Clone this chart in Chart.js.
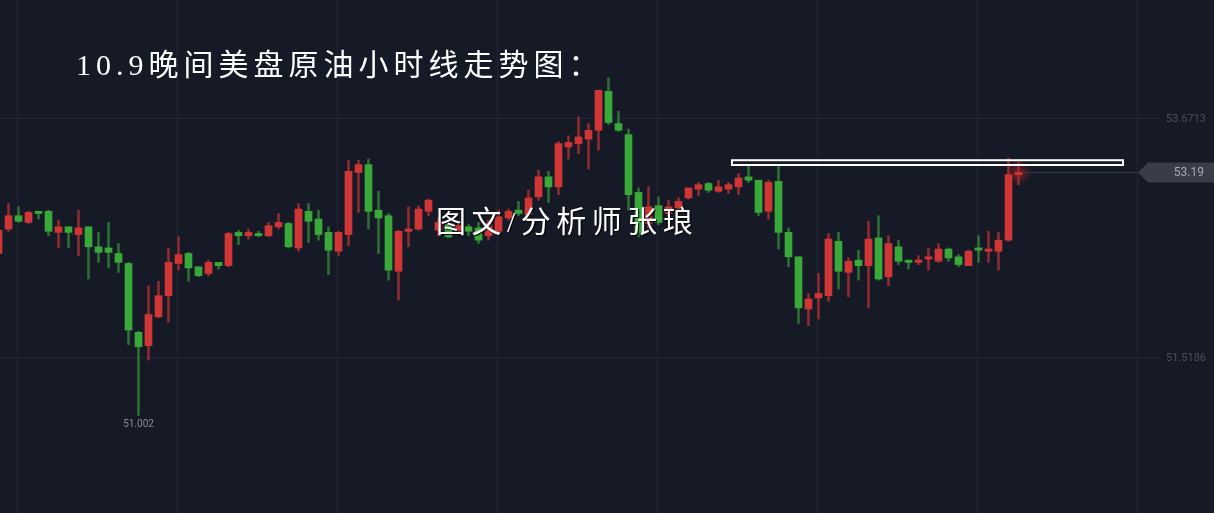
<!DOCTYPE html>
<html lang="zh-CN">
<head>
<meta charset="utf-8">
<title>10.9晚间美盘原油小时线走势图</title>
<script src="https://cdn.jsdelivr.net/npm/chart.js@4.4.1/dist/chart.umd.min.js"></script>
<style>
  html, body { margin: 0; padding: 0; background: #161a26; overflow: hidden; }
  #wrap { position: relative; width: 1214px; height: 513px; }
  #title {
    position: absolute; left: 76px; top: 48px;
    color: #fff; font-size: 30px; line-height: 34px; letter-spacing: 5px;
    font-family: "Liberation Serif", "Noto Sans CJK SC", serif;
    white-space: nowrap;
  }
  #mark {
    position: absolute; left: 436px; top: 205px;
    color: #fff; font-size: 30px; line-height: 34px; letter-spacing: 5.5px;
    font-family: "Liberation Serif", "Noto Sans CJK SC", serif;
    text-shadow: 1px 1px 1px #000;
    white-space: nowrap;
  }
</style>
</head>
<body>
<div id="wrap">
  <canvas id="kline"></canvas>
  <div id="title">10.9晚间美盘原油小时线走势图：</div>
  <div id="mark">图文/分析师张琅</div>
</div>
<script>
// hourly candles, oldest first (first one is cut by the left edge)
var opens = [52.46, 52.68, 52.80, 52.74, 52.84, 52.84, 52.65, 52.70, 52.63, 52.70, 52.52, 52.51, 52.46, 52.37, 51.75,
  51.63, 51.89, 52.08, 52.37, 52.46, 52.34, 52.28, 52.38, 52.35, 52.65, 52.62, 52.64, 52.62, 52.70, 52.73,
  52.51, 52.84, 52.77, 52.65, 52.48, 52.63, 53.19, 53.26, 52.85, 52.80, 52.30, 52.66, 52.68, 52.84, 52.67,
  52.72, 52.67, 52.70, 52.69, 52.62, 52.66, 52.78, 52.85, 52.81, 52.97, 53.15, 53.06, 53.42, 53.45, 53.49,
  53.57, 53.92, 53.63, 53.53, 53.01, 52.73, 52.89, 52.82, 52.87, 52.96, 53.04, 53.09, 53.02, 53.04, 53.06,
  53.15, 53.12, 52.84, 53.11, 52.65, 52.43, 51.96, 52.06, 52.08, 52.57, 52.29, 52.40, 52.35, 52.60, 52.25,
  52.52, 52.40, 52.38, 52.41, 52.39, 52.50, 52.43, 52.35, 52.51, 52.48, 52.48, 52.58, 53.17];
var highs = [52.69, 52.91, 52.88, 52.84, 52.84, 52.85, 52.76, 52.70, 52.85, 52.70, 52.65, 52.74, 52.55, 52.38, 51.76,
  52.17, 52.21, 52.51, 52.61, 52.47, 52.34, 52.40, 52.38, 52.65, 52.67, 52.68, 52.66, 52.74, 52.82, 52.74,
  52.91, 52.91, 52.85, 52.70, 52.66, 53.30, 53.30, 53.31, 53.02, 52.82, 52.67, 52.88, 52.89, 52.95, 52.78,
  52.74, 52.74, 52.72, 52.74, 52.76, 52.85, 52.86, 52.93, 53.03, 53.21, 53.20, 53.47, 53.52, 53.69, 53.63,
  53.93, 54.04, 53.74, 53.58, 53.05, 53.06, 52.97, 52.94, 52.96, 53.05, 53.10, 53.10, 53.12, 53.10, 53.18,
  53.25, 53.12, 53.12, 53.26, 52.69, 52.43, 52.10, 52.28, 52.64, 52.65, 52.42, 52.49, 52.75, 52.80, 52.62,
  52.58, 52.40, 52.44, 52.51, 52.55, 52.51, 52.45, 52.49, 52.62, 52.66, 52.65, 53.32, 53.28];
var lows = [52.45, 52.66, 52.74, 52.73, 52.77, 52.62, 52.51, 52.51, 52.44, 52.23, 52.38, 52.33, 52.29, 51.64, 51.002,
  51.50, 51.88, 51.84, 52.31, 52.21, 52.25, 52.26, 52.32, 52.34, 52.54, 52.59, 52.61, 52.61, 52.68, 52.51,
  52.48, 52.56, 52.58, 52.27, 52.44, 52.53, 52.83, 52.68, 52.46, 52.22, 52.04, 52.52, 52.67, 52.80, 52.62,
  52.60, 52.64, 52.62, 52.55, 52.58, 52.64, 52.76, 52.80, 52.78, 52.94, 52.92, 52.99, 53.31, 53.36, 53.22,
  53.39, 53.62, 53.56, 52.85, 52.61, 52.69, 52.72, 52.80, 52.86, 52.95, 52.98, 53.01, 53.01, 53.00, 52.99,
  53.10, 52.80, 52.77, 52.50, 52.34, 51.83, 51.81, 51.87, 52.03, 52.14, 52.07, 52.22, 51.97, 52.22, 52.17,
  52.36, 52.32, 52.36, 52.31, 52.38, 52.39, 52.34, 52.35, 52.38, 52.38, 52.31, 52.57, 53.08];
var closes = [52.67, 52.80, 52.75, 52.83, 52.82, 52.66, 52.70, 52.65, 52.69, 52.52, 52.47, 52.47, 52.38, 51.77, 51.62,
  51.91, 52.08, 52.38, 52.45, 52.33, 52.26, 52.38, 52.35, 52.64, 52.62, 52.65, 52.62, 52.71, 52.74, 52.52,
  52.86, 52.75, 52.63, 52.49, 52.65, 53.20, 53.26, 52.84, 52.78, 52.31, 52.66, 52.68, 52.86, 52.94, 52.74,
  52.61, 52.71, 52.66, 52.58, 52.73, 52.79, 52.84, 52.82, 52.96, 53.15, 53.06, 53.45, 53.46, 53.51, 53.57,
  53.93, 53.64, 53.57, 52.99, 52.65, 52.88, 52.74, 52.88, 52.93, 53.05, 53.08, 53.03, 53.06, 53.08, 53.14,
  53.12, 52.83, 53.10, 52.65, 52.43, 51.97, 52.05, 52.10, 52.59, 52.30, 52.39, 52.35, 52.59, 52.23, 52.55,
  52.39, 52.38, 52.40, 52.43, 52.50, 52.42, 52.36, 52.48, 52.49, 52.50, 52.58, 53.17, 53.19];

var priceTicks = [51.5186, 53.6713];       // right-hand price labels
var gridSlots = [1.9, 17.9, 33.9, 49.9, 65.9, 81.9, 97.9, 113.9];   // vertical grid lines (candle slots)
var levelBox = { from: 73.35, to: 112.45, top: 53.30, bottom: 53.257 };   // white resistance box

var slots = opens.map(function (o, i) { return i; });
var upBody = '#d13636', downBody = '#39a93a';
var upWick = '#8e2b30', downWick = '#2c6e34';

function rising(i) { return closes[i] >= opens[i]; }

var extras = {
  id: 'extras',
  beforeDraw: function (chart) {
    var c = chart.ctx;
    c.save();
    c.fillStyle = '#161a26';
    c.fillRect(0, 0, chart.width, chart.height);
    c.restore();
  },
  beforeDatasetsDraw: function (chart) {
    var c = chart.ctx, area = chart.chartArea, x = chart.scales.x, y = chart.scales.y;
    c.save();
    c.strokeStyle = '#242836';
    c.lineWidth = 1;
    priceTicks.forEach(function (v) {
      var py = Math.round(y.getPixelForValue(v)) - 0.5;
      c.beginPath();
      c.moveTo(area.left, py);
      c.lineTo(area.right - 54, py);
      c.stroke();
    });
    // glow round the live candle
    var last = closes.length - 1;
    var gx = x.getPixelForValue(slots[last]), gy = y.getPixelForValue(closes[last]);
    var g = c.createRadialGradient(gx, gy, 0, gx, gy, 13);
    g.addColorStop(0, 'rgba(255,30,30,0.45)');
    g.addColorStop(1, 'rgba(255,30,30,0)');
    c.fillStyle = g;
    c.fillRect(gx - 14, gy - 14, 28, 28);
    c.restore();
  },
  afterDatasetsDraw: function (chart) {
    var c = chart.ctx, area = chart.chartArea, x = chart.scales.x, y = chart.scales.y;
    c.save();

    // resistance box
    var bx1 = x.getPixelForValue(levelBox.from), bx2 = x.getPixelForValue(levelBox.to);
    var by1 = y.getPixelForValue(levelBox.top), by2 = y.getPixelForValue(levelBox.bottom);
    c.strokeStyle = '#ffffff';
    c.lineWidth = 2;
    c.strokeRect(bx1, by1, bx2 - bx1, by2 - by1);

    // last price line and tag
    var last = closes.length - 1;
    var py = Math.round(y.getPixelForValue(closes[last])) + 0.5;
    var lx = x.getPixelForValue(slots[last]) + 4;
    var tip = area.right - 76;
    c.strokeStyle = '#343845';
    c.lineWidth = 1;
    c.beginPath();
    c.moveTo(lx, py);
    c.lineTo(tip, py);
    c.stroke();
    c.fillStyle = '#3a3d48';
    c.beginPath();
    c.moveTo(tip, py);
    c.lineTo(tip + 10, py - 10);
    c.lineTo(area.right, py - 10);
    c.lineTo(area.right, py + 10);
    c.lineTo(tip + 10, py + 10);
    c.closePath();
    c.fill();
    c.fillStyle = '#a9abb3';
    c.font = '12px Roboto, sans-serif';
    c.textAlign = 'right';
    c.textBaseline = 'middle';
    c.fillText(closes[last].toFixed(2), area.right - 10, py);

    // axis price labels
    c.fillStyle = '#4a4f5e';
    c.font = '11px Roboto, sans-serif';
    priceTicks.forEach(function (v) {
      c.fillText(v.toFixed(4), area.right - 8, y.getPixelForValue(v));
    });

    // lowest low marker
    var lo = 0;
    lows.forEach(function (v, i) { if (v < lows[lo]) lo = i; });
    c.fillStyle = '#8a8d96';
    c.font = '10px Roboto, sans-serif';
    c.textAlign = 'center';
    c.fillText(lows[lo].toFixed(3), x.getPixelForValue(slots[lo]), y.getPixelForValue(lows[lo]) + 9);
    c.restore();
  }
};

new Chart(document.getElementById('kline'), {
  type: 'bar',
  data: {
    datasets: [
      {
        label: '实体',
        data: slots.map(function (s, i) { return { x: s, y: [opens[i], closes[i]] }; }),
        backgroundColor: function (ctx) { return rising(ctx.dataIndex) ? upBody : downBody; },
        barThickness: 7,
        minBarLength: 2,
        grouped: false,
        borderWidth: 0
      },
      {
        label: '影线',
        data: slots.map(function (s, i) { return { x: s, y: [lows[i], highs[i]] }; }),
        backgroundColor: function (ctx) { return rising(ctx.dataIndex) ? upWick : downWick; },
        barThickness: 2,
        grouped: false,
        borderWidth: 0
      }
    ]
  },
  options: {
    animation: false,
    responsive: true,
    maintainAspectRatio: false,
    events: [],
    layout: { padding: 0 },
    plugins: { legend: { display: false }, tooltip: { enabled: false } },
    scales: {
      x: {
        type: 'linear',
        min: 0.15,
        max: 121.55,
        offset: false,
        ticks: { display: false },
        grid: { color: '#222633', drawTicks: false, offset: false },
        border: { display: false },
        afterBuildTicks: function (scale) {
          scale.ticks = gridSlots.map(function (v) { return { value: v }; });
        }
      },
      y: {
        type: 'linear',
        display: false,
        min: 50.1225,
        max: 54.7431
      }
    }
  },
  plugins: [extras]
});
</script>
</body>
</html>
